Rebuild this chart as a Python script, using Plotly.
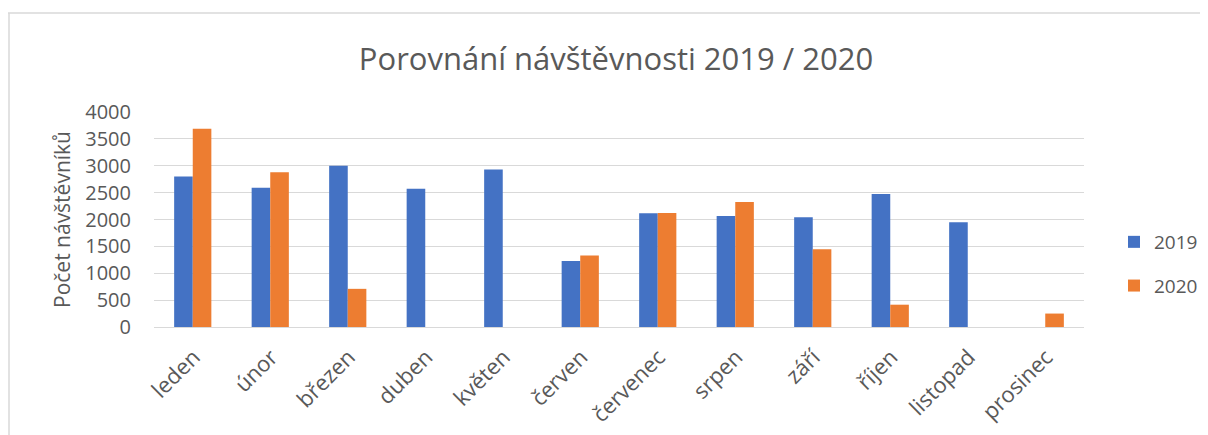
import plotly.graph_objects as go

months = ["leden", "únor", "březen", "duben", "květen", "červen",
          "červenec", "srpen", "září", "říjen", "listopad", "prosinec"]
visits_2019 = [2800, 2590, 3000, 2570, 2930, 1230, 2115, 2065, 2040, 2475, 1950, None]
visits_2020 = [3690, 2880, 710, None, None, 1330, 2120, 2325, 1445, 415, None, 250]
y_ticks = [0, 500, 1000, 1500, 2000, 2500, 3000, 3500, 4000]

FONT = "Open Sans"
GREY = "#595959"

# page body has an 8px margin; figure sized to fill the rest of the window
OFF = 8
W, H = 1200, 427
L, T = 154 - OFF, 112 - OFF
R = W - (1084 - OFF)
B = H - (327 - OFF)


def px_x(p):
    return (p - OFF - L) / (W - L - R)


def px_y(p):
    return 1 - (p - OFF - T) / (H - T - B)


fig = go.Figure()
fig.add_trace(go.Bar(name="2019", x=months, y=visits_2019,
                     marker=dict(color="#4472C4", line=dict(width=0)),
                     legendgroup="a"))
fig.add_trace(go.Bar(name="2020", x=months, y=visits_2020,
                     marker=dict(color="#ED7D31", line=dict(width=0)),
                     legendgroup="b"))

fig.update_layout(
    width=W, height=H,
    margin=dict(l=L, r=R, t=T, b=B, pad=0, autoexpand=False),
    paper_bgcolor="white", plot_bgcolor="white",
    barmode="group", bargap=0.52, bargroupgap=0,
    font=dict(family=FONT, color=GREY, size=19),
    title=dict(text="Porovnání návštěvnosti 2019 / 2020",
               x=(616 - OFF) / W, xanchor="center",
               y=1 - (59 - OFF) / H, yanchor="middle",
               font=dict(family=FONT, size=31, color=GREY)),
    xaxis=dict(tickangle=-45, showgrid=False, showline=False, ticks="",
               automargin=False, ticklabelstandoff=12, ticklabelshift=1,
               tickfont=dict(size=22, color=GREY)),
    yaxis=dict(range=[0, 4000], tickvals=y_ticks, showgrid=True,
               gridcolor="#D9D9D9", gridwidth=1.3, zeroline=True,
               zerolinecolor="#D9D9D9", zerolinewidth=1.3,
               ticks="", ticklabelstandoff=22, automargin=False,
               tickfont=dict(size=20, color=GREY),
               title=dict(text="Počet návštěvníků", standoff=8,
                          font=dict(size=21, color=GREY))),
    legend=dict(x=px_x(1114), y=px_y(223), xanchor="left", yanchor="top",
                traceorder="grouped", tracegroupgap=16,
                font=dict(size=19, color=GREY), itemwidth=30),
    showlegend=True,
    shapes=[
        dict(type="line", xref="paper", yref="paper",
             x0=px_x(OFF), x1=px_x(1215), y0=px_y(13), y1=px_y(13),
             line=dict(color="#D9D9D9", width=1.5)),
        dict(type="line", xref="paper", yref="paper",
             x0=px_x(OFF + 1), x1=px_x(OFF + 1), y0=px_y(13), y1=px_y(440),
             line=dict(color="#D9D9D9", width=1.5)),
    ],
)

fig.write_html("out.html")
